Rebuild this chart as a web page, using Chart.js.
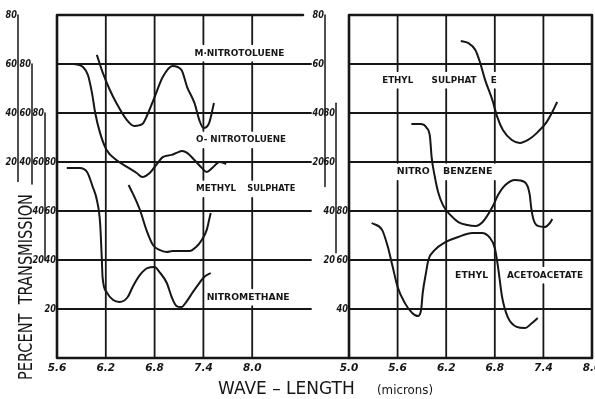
<!DOCTYPE html>
<html>
<head>
<meta charset="utf-8">
<script src="https://cdn.jsdelivr.net/npm/chart.js@4.4.1/dist/chart.umd.min.js"></script>
<style>
  html, body { margin: 0; padding: 0; background: #fff; }
  #wrap { position: relative; width: 595px; height: 399px; overflow: hidden; }
  #wrap canvas { position: absolute; left: 0; top: 0; }
</style>
</head>
<body>
<div id="wrap">
  <canvas id="leftPanel" width="595" height="399"></canvas>
  <canvas id="rightPanel" width="595" height="399"></canvas>
</div>
<script>
// Infrared spectra: wavelength (microns) against percent transmission.
// Each spectrum has its own transmission scale, shifted by whole grid rows.

// ---- left panel ----
const mNitroWave = [6.09, 6.16, 6.25, 6.33, 6.46, 6.55, 6.65, 6.71, 6.80, 6.90, 7.02, 7.13, 7.20, 7.29, 7.35, 7.40, 7.47, 7.53];
const mNitroT    = [63.7, 56.7, 49.4, 44.1, 37.1, 34.7, 35.5, 39.2, 46.5, 54.7, 59.2, 57.6, 50.6, 44.1, 37.1, 33.9, 35.9, 44.1];

const oNitroWave = [5.81, 5.92, 5.98, 6.03, 6.07, 6.13, 6.21, 6.33, 6.46, 6.58, 6.65, 6.74, 6.82, 6.90, 7.01, 7.07, 7.14, 7.20, 7.29, 7.38, 7.44, 7.51, 7.60, 7.68];
const oNitroT    = [80.0, 78.8, 75.5, 68.2, 60.0, 51.8, 44.9, 40.8, 38.0, 35.5, 33.9, 35.5, 38.8, 42.0, 42.9, 43.7, 44.5, 43.7, 40.8, 37.6, 35.9, 37.6, 40.0, 39.2];

const methylSulphWave = [6.48, 6.53, 6.62, 6.70, 6.78, 6.86, 6.95, 7.02, 7.13, 7.23, 7.31, 7.38, 7.44, 7.47, 7.49];
const methylSulphT    = [50.6, 47.3, 40.4, 32.2, 26.1, 24.1, 23.3, 23.7, 23.7, 23.7, 25.3, 28.2, 32.2, 36.3, 39.2];

const nitromethaneWave = [5.72, 5.88, 5.97, 6.04, 6.09, 6.13, 6.15, 6.16, 6.21, 6.29, 6.37, 6.47, 6.53, 6.62, 6.71, 6.80, 6.86, 6.95, 7.01, 7.07, 7.13, 7.19, 7.27, 7.35, 7.41, 7.49];
const nitromethaneT    = [77.6, 77.6, 75.9, 69.8, 64.5, 55.1, 41.2, 33.1, 26.9, 23.7, 22.9, 24.9, 29.0, 33.9, 36.7, 37.1, 35.1, 30.6, 24.9, 21.2, 20.8, 22.9, 26.9, 30.6, 33.1, 34.7];

// ---- right panel ----
const ethylSulphWave = [6.38, 6.47, 6.56, 6.62, 6.68, 6.77, 6.83, 6.90, 7.01, 7.11, 7.21, 7.33, 7.44, 7.51, 7.57];
const ethylSulphT    = [69.4, 68.6, 65.7, 60.4, 53.5, 45.3, 38.4, 33.1, 29.0, 27.8, 29.0, 32.2, 36.3, 40.4, 44.5];

const nitrobenzeneWave = [5.77, 5.88, 5.96, 6.00, 6.02, 6.06, 6.10, 6.16, 6.25, 6.35, 6.46, 6.56, 6.65, 6.77, 6.84, 6.93, 7.05, 7.17, 7.23, 7.25, 7.28, 7.33, 7.42, 7.48, 7.51];
const nitrobenzeneT    = [75.5, 75.5, 73.9, 70.2, 62.0, 53.9, 47.8, 42.4, 38.4, 35.5, 34.3, 33.9, 35.5, 41.6, 46.5, 50.6, 52.7, 51.8, 46.9, 41.2, 36.3, 33.9, 33.5, 35.1, 36.7];

const ethylAcetoWave = [5.28, 5.41, 5.48, 5.54, 5.60, 5.69, 5.78, 5.85, 5.89, 5.91, 5.95, 5.98, 6.06, 6.19, 6.35, 6.52, 6.64, 6.74, 6.80, 6.84, 6.89, 6.96, 7.07, 7.17, 7.26, 7.33];
const ethylAcetoT    = [75.1, 72.2, 65.3, 57.1, 49.0, 42.4, 38.4, 37.1, 39.6, 46.5, 54.7, 60.0, 64.1, 67.3, 69.4, 71.0, 71.0, 69.0, 64.9, 57.1, 44.9, 36.7, 32.7, 32.2, 34.3, 36.3];

// ---- tick labels ----
const leftWaveTicks  = [5.6, 6.2, 6.8, 7.4, 8.0];
const rightWaveTicks = [5.0, 5.6, 6.2, 6.8, 7.4, 8.0];
const ticksA  = [80, 60, 40, 20];   // M-nitrotoluene
const ticksB  = [80, 60, 40];       // O-nitrotoluene
const ticksC  = [80, 60, 40, 20];   // methyl sulphate
const ticksD  = [80, 60, 40, 20];   // nitromethane
const ticksR1 = [80, 60, 40, 20];   // ethyl sulphate
const ticksR2 = [80, 60, 40, 20];   // nitrobenzene
const ticksR3 = [80, 60, 40];       // ethyl acetoacetate

const INK = '#161616';
const ROWS = 7;            // grid rows of 20 % each
const TICK_FONT = 'italic bold 10.5px "DejaVu Sans"';
const AXIS_FONT = 'italic bold 10px "DejaVu Sans"';
const NAME_FONT = 'bold 9.5px "DejaVu Sans"';

const zip = (xs, ys) => xs.map((x, i) => ({ x, y: ys[i] }));

function spectrum(label, wave, t, axisId) {
  return {
    label, data: zip(wave, t), yAxisID: axisId, showLine: true,
    borderColor: INK, borderWidth: 2, pointRadius: 0,
    cubicInterpolationMode: 'monotone', fill: false
  };
}

// Hand-ruled frame, grid, offset transmission axes and names
function sketchPlugin(panel) {
  return {
    id: 'sketch',
    beforeDatasetsDraw(chart) {
      const ctx = chart.ctx, a = chart.chartArea;
      const xs = chart.scales.x, fr = chart.scales.frame;
      ctx.save();
      ctx.strokeStyle = INK; ctx.fillStyle = INK; ctx.lineCap = 'round';

      // boxes around the names break the vertical rules
      ctx.font = NAME_FONT;
      const boxes = panel.names.map(n => {
        const w = Math.min(ctx.measureText(n.text).width, n.maxW);
        const x = xs.getPixelForValue(n.x), y = fr.getPixelForValue(n.g);
        return { x0: x - 3, x1: x + w + 3, y0: y - 9, y1: y + 9 };
      });

      ctx.lineWidth = 1.8;
      panel.gridWaves.forEach(v => {
        const px = xs.getPixelForValue(v);
        const gaps = boxes.filter(b => px >= b.x0 && px <= b.x1).sort((p, q) => p.y0 - q.y0);
        let y = a.top;
        ctx.beginPath();
        gaps.forEach(b => {
          if (b.y0 > y) { ctx.moveTo(px, y); ctx.lineTo(px, b.y0); }
          y = Math.max(y, b.y1);
        });
        ctx.moveTo(px, y); ctx.lineTo(px, a.bottom);
        ctx.stroke();
      });

      for (let g = 1; g < ROWS; g++) {
        const py = fr.getPixelForValue(g);
        ctx.beginPath();
        ctx.moveTo(a.left, py); ctx.lineTo(a.right + panel.gridExtend, py);
        ctx.stroke();
      }

      // frame
      ctx.lineWidth = 2.6;
      ctx.beginPath();
      ctx.moveTo(a.left, a.top); ctx.lineTo(a.right + panel.topExtend, a.top);
      ctx.moveTo(a.left, a.top); ctx.lineTo(a.left, a.bottom);
      ctx.moveTo(a.left, a.bottom); ctx.lineTo(a.right + panel.bottomExtend, a.bottom);
      if (panel.rightBorder) { ctx.moveTo(a.right, a.top); ctx.lineTo(a.right, a.bottom); }
      ctx.stroke();

      // offset transmission axes
      panel.axes.forEach(ax => {
        const ys = chart.scales[ax.id];
        const px = a.left + ax.dx;
        if (ax.dx !== 0) {
          ctx.lineWidth = 1.5;
          ctx.beginPath();
          ctx.moveTo(px, ys.getPixelForValue(ax.from));
          ctx.lineTo(px, ys.getPixelForValue(ax.to));
          ctx.stroke();
        }
        ctx.font = AXIS_FONT; ctx.textAlign = 'right'; ctx.textBaseline = 'middle';
        ax.ticks.forEach(t => ctx.fillText(String(t), px - 1, ys.getPixelForValue(t), 11.5));
      });

      // wavelength ticks
      ctx.font = TICK_FONT; ctx.textAlign = 'center'; ctx.textBaseline = 'middle';
      panel.waveTicks.forEach(v => ctx.fillText(v.toFixed(1), xs.getPixelForValue(v), a.bottom + 10));
      ctx.restore();
    },
    afterDatasetsDraw(chart) {
      const ctx = chart.ctx;
      const xs = chart.scales.x, fr = chart.scales.frame;
      ctx.save();
      ctx.fillStyle = INK;
      ctx.font = NAME_FONT; ctx.textAlign = 'left'; ctx.textBaseline = 'middle';
      panel.names.forEach(n => ctx.fillText(n.text, xs.getPixelForValue(n.x), fr.getPixelForValue(n.g), n.maxW));
      if (panel.titles) panel.titles(ctx);
      ctx.restore();
    }
  };
}

function makeChart(canvasId, panel, datasets) {
  const scales = {
    x: { type: 'linear', axis: 'x', position: 'bottom', min: panel.xMin, max: panel.xMax, display: false },
    frame: { type: 'linear', axis: 'y', position: 'left', min: 0, max: ROWS, display: false }
  };
  panel.axes.forEach(ax => {
    scales[ax.id] = {
      type: 'linear', axis: 'y', position: 'left',
      min: -20 * ax.offset, max: 20 * (ROWS - ax.offset), display: false
    };
  });
  return new Chart(document.getElementById(canvasId), {
    type: 'scatter',
    data: { datasets },
    options: {
      responsive: false, animation: false, devicePixelRatio: 1,
      layout: { padding: panel.padding },
      plugins: { legend: { display: false }, tooltip: { enabled: false } },
      scales
    },
    plugins: [sketchPlugin(panel)]
  });
}

const leftPanel = {
  xMin: 5.6, xMax: 8.6,
  padding: { left: 57, top: 15, right: 294, bottom: 41 },
  gridWaves: leftWaveTicks.slice(1),
  waveTicks: leftWaveTicks,
  gridExtend: 10, topExtend: 2, bottomExtend: 48, rightBorder: false,
  axes: [
    { id: 'yA', offset: 3, dx: -39, from: 80, to: 12, ticks: ticksA },
    { id: 'yB', offset: 2, dx: -25, from: 80, to: 31, ticks: ticksB },
    { id: 'yC', offset: 1, dx: -12, from: 80, to: 20, ticks: ticksC },
    { id: 'yD', offset: 0, dx: 0, from: 140, to: 0, ticks: ticksD }
  ],
  names: [
    { text: 'M·NITROTOLUENE', x: 7.29, g: 6.22, maxW: 90 },
    { text: 'O- NITROTOLUENE', x: 7.31, g: 4.45, maxW: 90 },
    { text: 'METHYL', x: 7.31, g: 3.45, maxW: 40 },
    { text: 'SULPHATE', x: 7.94, g: 3.45, maxW: 48 },
    { text: 'NITROMETHANE', x: 7.44, g: 1.24, maxW: 83 }
  ],
  titles(ctx) {
    ctx.textAlign = 'center'; ctx.textBaseline = 'middle';
    ctx.save();
    ctx.translate(27, 287);
    ctx.rotate(-Math.PI / 2);
    ctx.font = '19px "DejaVu Sans"';
    ctx.fillText('PERCENT  TRANSMISSION', 0, 0, 186);
    ctx.restore();
    ctx.textAlign = 'left';
    ctx.font = '17px "DejaVu Sans"';
    ctx.fillText('WAVE – LENGTH', 218, 390, 140);
    ctx.font = '13px "DejaVu Sans"';
    ctx.fillText('(microns)', 377, 391, 56);
  }
};

const rightPanel = {
  xMin: 5.0, xMax: 8.0,
  padding: { left: 349, top: 15, right: 3, bottom: 41 },
  gridWaves: rightWaveTicks.slice(1, -1),
  waveTicks: rightWaveTicks,
  gridExtend: 0, topExtend: 0, bottomExtend: 0, rightBorder: true,
  axes: [
    { id: 'yR1', offset: 3, dx: -24, from: 80, to: 10, ticks: ticksR1 },
    { id: 'yR2', offset: 1, dx: -13, from: 84, to: 23, ticks: ticksR2 },
    { id: 'yR3', offset: -1, dx: 0, from: 160, to: 20, ticks: ticksR3 }
  ],
  names: [
    { text: 'ETHYL', x: 5.41, g: 5.67, maxW: 31 },
    { text: 'SULPHAT', x: 6.02, g: 5.67, maxW: 45 },
    { text: 'E', x: 6.75, g: 5.67, maxW: 6 },
    { text: 'NITRO', x: 5.59, g: 3.80, maxW: 33 },
    { text: 'BENZENE', x: 6.16, g: 3.80, maxW: 54 },
    { text: 'ETHYL', x: 6.31, g: 1.69, maxW: 33 },
    { text: 'ACETOACETATE', x: 6.95, g: 1.69, maxW: 76 }
  ]
};

makeChart('leftPanel', leftPanel, [
  spectrum('M-Nitrotoluene', mNitroWave, mNitroT, 'yA'),
  spectrum('O-Nitrotoluene', oNitroWave, oNitroT, 'yB'),
  spectrum('Methyl sulphate', methylSulphWave, methylSulphT, 'yC'),
  spectrum('Nitromethane', nitromethaneWave, nitromethaneT, 'yD')
]);

makeChart('rightPanel', rightPanel, [
  spectrum('Ethyl sulphate', ethylSulphWave, ethylSulphT, 'yR1'),
  spectrum('Nitrobenzene', nitrobenzeneWave, nitrobenzeneT, 'yR2'),
  spectrum('Ethyl acetoacetate', ethylAcetoWave, ethylAcetoT, 'yR3')
]);
</script>
</body>
</html>
